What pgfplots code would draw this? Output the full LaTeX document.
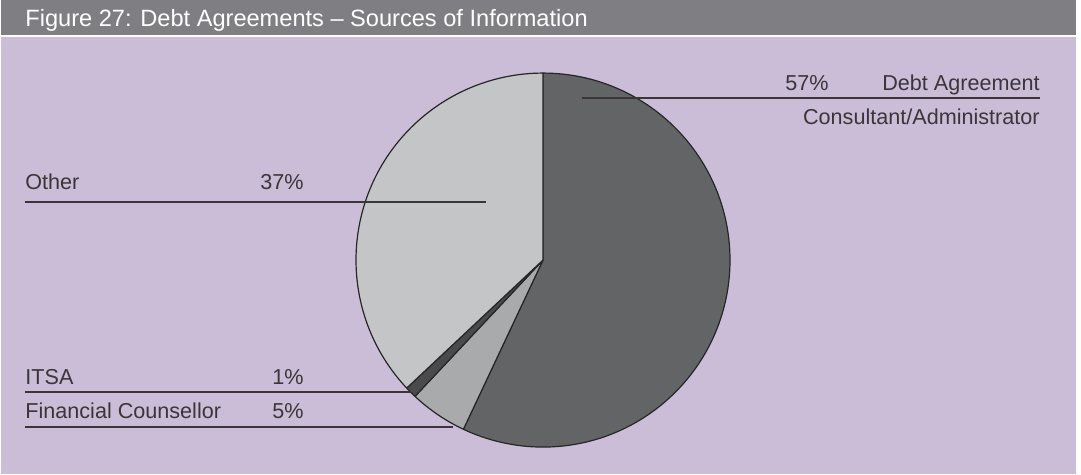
\documentclass[border=0pt]{standalone}
\usepackage{fontspec}
\setmainfont{Liberation Sans}
\usepackage{pgfplots}
\usepackage{pgfplotstable}
\pgfplotsset{compat=1.18}

\definecolor{bgpurple}{HTML}{CBBDD7}
\definecolor{titlegray}{HTML}{7F7F83}
\definecolor{sliceA}{HTML}{636466}
\definecolor{sliceB}{HTML}{A9AAAC}
\definecolor{sliceC}{HTML}{4A4A4D}
\definecolor{sliceD}{HTML}{C4C5C7}
\definecolor{txt}{HTML}{3B3539}

% shares in percent, clockwise from the top
\pgfplotstableread{
name value
Debt 57
Counsellor 5
ITSA 1
Other 37
}\piedata

\begin{document}
\begin{tikzpicture}
% angles of the slice edges
\pgfplotstablegetelem{0}{value}\of\piedata \let\vA\pgfplotsretval
\pgfplotstablegetelem{1}{value}\of\piedata \let\vB\pgfplotsretval
\pgfplotstablegetelem{2}{value}\of\piedata \let\vC\pgfplotsretval
\pgfplotstablegetelem{3}{value}\of\piedata \let\vD\pgfplotsretval
\pgfmathsetmacro{\aA}{90-3.6*\vA}
\pgfmathsetmacro{\aB}{\aA-3.6*\vB}
\pgfmathsetmacro{\aC}{\aB-3.6*\vC}
\pgfmathsetmacro{\aD}{\aC-3.6*\vD}
\def\R{93.5pt}
\begin{axis}[
    hide axis, scale only axis,
    width=540.5pt, height=237pt,
    xmin=0, xmax=1081, ymin=0, ymax=474,
    y dir=reverse, clip=false,
]
    % background panels
    \fill[white] (axis cs:0,0) rectangle (axis cs:1081,474);
    \fill[titlegray] (axis cs:1,0) rectangle (axis cs:1076,35);
    \fill[bgpurple] (axis cs:1,37) rectangle (axis cs:1076,474);
    \node[white, anchor=base west, inner sep=0pt, font=\fontsize{11.8}{14}\selectfont]
        at (axis cs:25,26) {Figure 27: Debt Agreements – Sources of Information};

    % slices
    \filldraw[fill=sliceA, draw=black!85, line width=0.6pt, line join=round]
        (axis cs:543,260) -- ++(90:\R) arc[start angle=90, end angle=\aA, radius=\R] -- cycle;
    \filldraw[fill=sliceB, draw=black!85, line width=0.6pt, line join=round]
        (axis cs:543,260) -- ++(\aA:\R) arc[start angle=\aA, end angle=\aB, radius=\R] -- cycle;
    \filldraw[fill=sliceC, draw=black!85, line width=0.6pt, line join=round]
        (axis cs:543,260) -- ++(\aB:\R) arc[start angle=\aB, end angle=\aC, radius=\R] -- cycle;
    \filldraw[fill=sliceD, draw=black!85, line width=0.6pt, line join=round]
        (axis cs:543,260) -- ++(\aC:\R) arc[start angle=\aC, end angle=\aD, radius=\R] -- cycle;

    % leader lines
    \draw[txt, line width=0.75pt] (axis cs:582,98) -- (axis cs:1040,98);
    \draw[txt, line width=0.75pt] (axis cs:25,202) -- (axis cs:486,202);
    \draw[txt, line width=0.75pt] (axis cs:25,392) -- (axis cs:411,392);
    \draw[txt, line width=0.75pt] (axis cs:25,427) -- (axis cs:453,427);

    % labels
    \begin{scope}[every node/.style={txt, font=\fontsize{10.8}{13}\selectfont, inner sep=0pt}]
    \node[anchor=base east] at (axis cs:1040,90) {Debt Agreement};
    \node[anchor=base east] at (axis cs:829,90) {57\%};
    \node[anchor=base east] at (axis cs:1040,124) {Consultant/Administrator};
    \node[anchor=base west] at (axis cs:25,189) {Other};
    \node[anchor=base east] at (axis cs:304,189) {37\%};
    \node[anchor=base west] at (axis cs:25,384) {ITSA};
    \node[anchor=base east] at (axis cs:304,384) {1\%};
    \node[anchor=base west] at (axis cs:25,418) {Financial Counsellor};
    \node[anchor=base east] at (axis cs:304,418) {5\%};
    \end{scope}
\end{axis}
\end{tikzpicture}
\end{document}
